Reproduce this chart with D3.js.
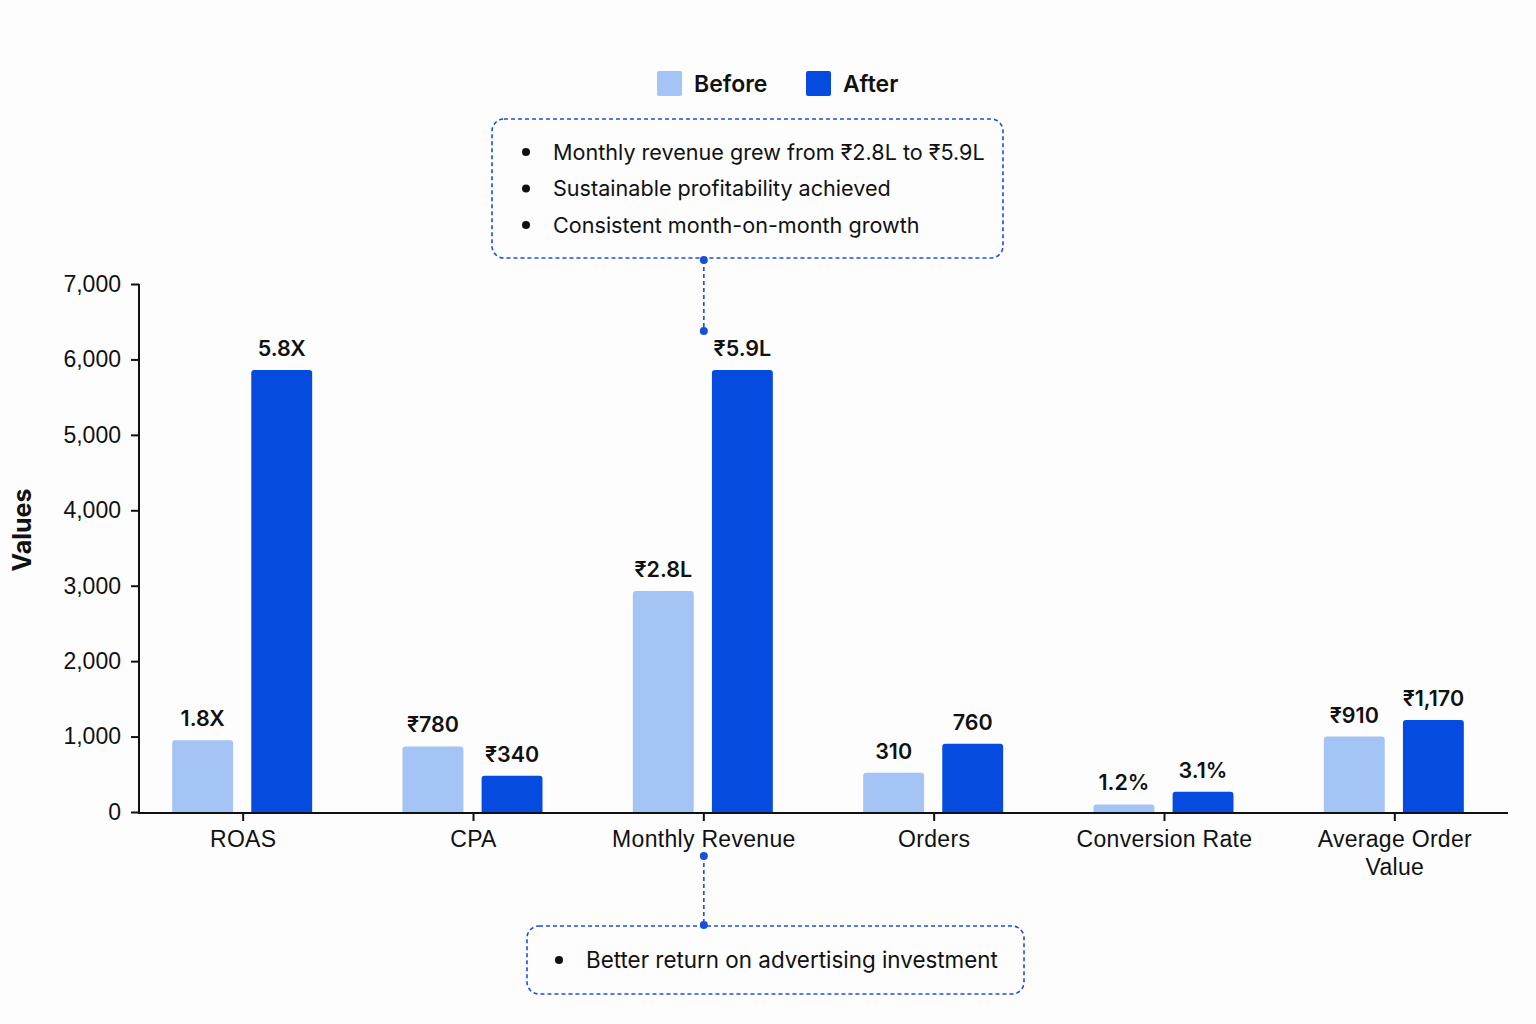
<!DOCTYPE html>
<html>
<head>
<meta charset="utf-8">
<script src="https://cdn.jsdelivr.net/npm/d3@7"></script>
<style>
  body { margin: 0; background: #fdfdfd; }
  svg { font-family: Inter, "Noto Sans", sans-serif; }
  .axis text { font-size: 23px; fill: #111; }
  .axis path, .axis line { stroke: #111; stroke-width: 2; }
</style>
</head>
<body>
<svg id="chart"></svg>
<script>
// data
const categories = ['ROAS', 'CPA', 'Monthly Revenue', 'Orders', 'Conversion Rate', 'Average Order Value'];
const series = ['Before', 'After'];
const beforeValues = [950, 870, 2930, 520, 100, 1000];
const afterValues = [5860, 480, 5860, 905, 270, 1220];
const beforeLabels = ['1.8X', '₹780', '₹2.8L', '310', '1.2%', '₹910'];
const afterLabels = ['5.8X', '₹340', '₹5.9L', '760', '3.1%', '₹1,170'];
const yTicks = [0, 1000, 2000, 3000, 4000, 5000, 6000, 7000];
const topNotes = ['Monthly revenue grew from ₹2.8L to ₹5.9L', 'Sustainable profitability achieved', 'Consistent month-on-month growth'];
const bottomNotes = ['Better return on advertising investment'];

const colors = { Before: '#a4c4f6', After: '#064be0' };
const noteColor = '#1650dc';

const width = 1536, height = 1024;
const svg = d3.select('#chart').attr('width', width).attr('height', height);

// scales
const x = d3.scaleBand().domain(categories).range([128, 1510]);
const xSub = d3.scaleBand().domain(series).range([-71, 69]).paddingInner(0.23);
const y = d3.scaleLinear().domain([0, 7000]).range([812, 284]);

const rows = categories.map((c, i) => ({
  cat: c,
  vals: [
    { key: 'Before', value: beforeValues[i], label: beforeLabels[i] },
    { key: 'After', value: afterValues[i], label: afterLabels[i] }
  ]
}));

// bars
const groups = svg.append('g').selectAll('g')
  .data(rows)
  .join('g')
  .attr('transform', d => `translate(${x(d.cat) + x.bandwidth() / 2},0)`);

groups.selectAll('path.bar')
  .data(d => d.vals)
  .join('path')
  .attr('class', 'bar')
  .attr('fill', d => colors[d.key])
  .attr('d', d => {
    const x0 = xSub(d.key), w = xSub.bandwidth();
    const top = y(d.value), bot = y(0) + 1, r = Math.min(3, (bot - top) / 2);
    return `M${x0},${bot}V${top + r}Q${x0},${top} ${x0 + r},${top}H${x0 + w - r}Q${x0 + w},${top} ${x0 + w},${top + r}V${bot}Z`;
  });

groups.selectAll('text.val')
  .data(d => d.vals)
  .join('text')
  .attr('class', 'val')
  .attr('x', d => xSub(d.key) + xSub.bandwidth() / 2)
  .attr('y', d => y(d.value) - 14)
  .attr('text-anchor', 'middle')
  .attr('font-size', 21.5)
  .attr('font-weight', 600)
  .attr('fill', '#111')
  .text(d => d.label);

// y axis
const yAxis = d3.axisLeft(y)
  .tickValues(yTicks)
  .tickFormat(d3.format(','))
  .tickSize(8)
  .tickSizeOuter(0)
  .tickPadding(10);

const yAxisG = svg.append('g')
  .attr('class', 'axis')
  .attr('transform', 'translate(139,0)')
  .call(yAxis);
yAxisG.select('.domain').attr('d', `M0,${y(7000)}V${y(0) + 1}`);

// x axis
const xAxis = d3.axisBottom(x).tickSize(8).tickSizeOuter(0).tickPadding(10);
const xAxisG = svg.append('g')
  .attr('class', 'axis')
  .attr('transform', `translate(0,${y(0) + 1})`)
  .call(xAxis);
xAxisG.select('.domain').attr('d', 'M138,0H1508');
xAxisG.selectAll('.tick text')
  .attr('font-size', 23.5)
  .attr('letter-spacing', 0.3)
  .each(function(d) {
    const t = d3.select(this);
    if (d === 'Average Order Value') {
      t.text(null);
      t.append('tspan').attr('x', 0).attr('dy', '0.71em').text('Average Order');
      t.append('tspan').attr('x', 0).attr('dy', '1.2em').text('Value');
    }
  });

// y title
svg.append('text')
  .attr('transform', `translate(31,${(y(0) + y(7000)) / 2 - 18}) rotate(-90)`)
  .attr('text-anchor', 'middle')
  .attr('font-size', 25)
  .attr('font-weight', 700)
  .attr('fill', '#111')
  .text('Values');

// legend
const legend = svg.append('g').selectAll('g')
  .data(series)
  .join('g')
  .attr('transform', (d, i) => `translate(${i === 0 ? 657 : 806},71)`);
legend.append('rect')
  .attr('width', 25).attr('height', 25).attr('rx', 2)
  .attr('fill', d => colors[d]);
legend.append('text')
  .attr('x', 37).attr('y', 13).attr('dy', '0.35em')
  .attr('font-size', 23).attr('font-weight', 600).attr('fill', '#111')
  .text(d => d);

// annotation boxes
function noteBox(bx, by, bw, bh, notes, bulletX, textX, fontSize, lineStart, lineEnd) {
  const g = svg.append('g');
  g.append('rect')
    .attr('x', bx).attr('y', by).attr('width', bw).attr('height', bh)
    .attr('rx', 12)
    .attr('fill', 'none')
    .attr('stroke', noteColor)
    .attr('stroke-width', 1.6)
    .attr('stroke-dasharray', '4,3');
  const lineH = 36.5;
  const startY = by + bh / 2 - (notes.length - 1) * lineH / 2;
  notes.forEach((n, i) => {
    g.append('circle').attr('cx', bulletX).attr('cy', startY + i * lineH).attr('r', 4).attr('fill', '#111');
    g.append('text')
      .attr('x', textX).attr('y', startY + i * lineH).attr('dy', '0.35em')
      .attr('font-size', fontSize).attr('fill', '#111')
      .text(n);
  });
  const cx = x('Monthly Revenue') + x.bandwidth() / 2;
  g.append('line')
    .attr('x1', cx).attr('x2', cx).attr('y1', lineStart).attr('y2', lineEnd)
    .attr('stroke', noteColor).attr('stroke-width', 1.6).attr('stroke-dasharray', '4,3');
  [lineStart, lineEnd].forEach(v => {
    g.append('circle').attr('cx', cx).attr('cy', v).attr('r', 4).attr('fill', noteColor);
  });
}

noteBox(492, 119, 511, 139, topNotes, 526, 553, 21.6, 260, 331);
noteBox(527, 926, 497, 68, bottomNotes, 559, 586, 22.4, 856, 925);
</script>
</body>
</html>
